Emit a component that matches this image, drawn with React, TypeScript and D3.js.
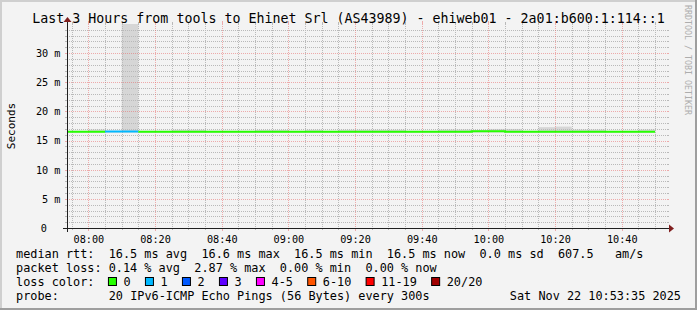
import React from 'react';
import * as d3 from 'd3';

// ---------- data ----------
const intervalEnds = [
  '07:55', '08:00', '08:05', '08:10', '08:15', '08:20', '08:25', '08:30', '08:35', '08:40', '08:45', '08:50',
  '08:55', '09:00', '09:05', '09:10', '09:15', '09:20', '09:25', '09:30', '09:35', '09:40', '09:45', '09:50',
  '09:55', '10:00', '10:05', '10:10', '10:15', '10:20', '10:25', '10:30', '10:35', '10:40', '10:45', '10:50',
];
const medianMs = [
  16.5, 16.5, 16.5, 16.55, 16.55, 16.5, 16.5, 16.5, 16.5, 16.5, 16.5, 16.5,
  16.5, 16.5, 16.5, 16.5, 16.5, 16.5, 16.5, 16.5, 16.5, 16.5, 16.5, 16.5,
  16.5, 16.62, 16.62, 16.5, 16.5, 16.5, 16.5, 16.5, 16.5, 16.5, 16.5, 16.5,
];
const lossCount = [
  0, 0, 0, 1, 1, 0, 0, 0, 0, 0, 0, 0,
  0, 0, 0, 0, 0, 0, 0, 0, 0, 0, 0, 0,
  0, 0, 0, 0, 0, 0, 0, 0, 0, 0, 0, 0,
];
const smokeMaxMs = [
  16.62, 16.62, 16.9, 16.62, 40.0, 16.62, 16.62, 16.85, 16.85, 16.62, 16.62, 16.62,
  16.82, 16.82, 16.62, 16.85, 16.62, 16.85, 16.85, 16.85, 16.85, 16.62, 16.62, 16.9,
  16.9, 16.8, 17.0, 17.0, 16.62, 17.3, 17.4, 16.9, 16.9, 16.62, 16.62, 16.9,
];
const smokeMinMs = [
  16.38, 16.38, 16.38, 16.38, 16.38, 16.38, 16.38, 16.38, 16.38, 16.38, 16.38, 16.38,
  16.38, 16.38, 16.38, 16.38, 16.38, 16.38, 16.38, 16.38, 16.38, 16.38, 16.38, 16.38,
  16.38, 16.38, 16.38, 16.38, 16.38, 16.38, 16.38, 16.38, 16.38, 16.38, 16.38, 16.38,
];

const xTickLabels = ['08:00', '08:20', '08:40', '09:00', '09:20', '09:40', '10:00', '10:20', '10:40'];
const yTickValuesMs = [0, 5, 10, 15, 20, 25, 30];
const yTickLabels = ['0', '5 m', '10 m', '15 m', '20 m', '25 m', '30 m'];

const lossLegendLabels = ['0', '1', '2', '3', '4-5', '6-10', '11-19', '20/20'];
const lossLegendColors = ['#26ff00', '#00b8ff', '#0059ff', '#5e00ff', '#ff00ff', '#ff5500', '#ff0000', '#a10000'];
const lossLegendMin = [0, 1, 2, 3, 4, 6, 11, 20];

const titleText = 'Last 3 Hours from tools to Ehinet Srl (AS43989) - ehiweb01 - 2a01:b600:1:114::1';
const rttStats = [['16.5 ms', 'avg'], ['16.6 ms', 'max'], ['16.5 ms', 'min'], ['16.5 ms', 'now'], ['0.0 ms', 'sd']];
const rttAmps = '607.5';
const lossStats = [['0.14 %', 'avg'], ['2.87 %', 'max'], ['0.00 %', 'min'], ['0.00 %', 'now']];
const probeText = '20 IPv6-ICMP Echo Pings (56 Bytes) every 300s';
const dateText = 'Sat Nov 22 10:53:35 2025';

// ---------- layout ----------
const W = 697;
const H = 310;
const X0 = 67;
const X1 = 667;
const YB = 228;
const YT = 24;
const FONT = "'DejaVu Sans Mono', monospace";
const LEG = 11.85;
const CH = LEG * 0.602;

const day = (s: string, sec = 0) => {
  const [h, m] = s.split(':').map(Number);
  return new Date(2025, 10, 22, h, m, sec);
};

function colorFor(loss: number) {
  let c = lossLegendColors[0];
  lossLegendMin.forEach((m, i) => {
    if (loss >= m) c = lossLegendColors[i];
  });
  return c;
}

export default function App() {
  const tStart = day('07:53', 35);
  const tEnd = day('10:53', 35);
  const x = d3.scaleTime().domain([tStart, tEnd]).range([X0, X1]);
  const y = d3.scaleLinear().domain([0, 35]).range([YB, YT]);

  const minorX = d3.timeMinute.every(5)!.range(day('07:55'), tEnd).filter((t) => t.getMinutes() % 20 !== 0);
  const majorX = xTickLabels.map((s) => day(s));
  const minorY = d3.range(1, 35).filter((v) => v % 5 !== 0);
  const majorY = [5, 10, 15, 20, 25, 30];

  const intervals = intervalEnds.map((s, i) => {
    const e = day(s);
    const st = new Date(e.getTime() - 300000);
    return {
      xs: Math.max(X0, x(st)),
      xe: Math.min(X1, x(e)),
      med: medianMs[i],
      loss: lossCount[i],
      hi: smokeMaxMs[i],
      lo: smokeMinMs[i],
    };
  });

  const runs: { color: string; pts: [number, number][] }[] = [];
  intervals.forEach((d) => {
    const c = colorFor(d.loss);
    const yy = y(d.med);
    const last = runs[runs.length - 1];
    if (!last || last.color !== c) runs.push({ color: c, pts: [] });
    runs[runs.length - 1].pts.push([d.xs, yy], [d.xe, yy]);
  });
  const line = d3.line();

  const gridMinor = '#b9b9b9';
  const gridMajor = 'rgba(232,110,110,0.55)';

  const rttLine =
    'median rtt:  ' + rttStats.map(([v, l]) => `${v} ${l}  `).join('') + rttAmps + '   am/s';
  const lossLine = 'packet loss: ' + lossStats.map(([v, l]) => `${v} ${l}`).join('  ');

  const legendItems: { x: number; label: string; color: string }[] = [];
  let lx = 16 + 13 * CH - 0.8;
  lossLegendLabels.forEach((l, i) => {
    legendItems.push({ x: lx, label: l, color: lossLegendColors[i] });
    lx = lx + 15.6 + (l.length + 2) * CH;
  });

  const hy = (v: number) => Math.round(y(v)) + 0.5;
  const vx = (t: Date) => Math.round(x(t)) + 0.5;

  return (
    <svg
      width={W}
      height={H}
      style={{ position: 'absolute', left: 0, top: 0, display: 'block' }}
      fontFamily={FONT}
    >
      <rect x={0} y={0} width={W} height={H} fill="#f3f3f3" />
      <rect x={0} y={0} width={W} height={2} fill="#cfcfcf" />
      <rect x={0} y={0} width={2} height={H} fill="#cfcfcf" />
      <rect x={0} y={H - 2} width={W} height={2} fill="#9e9e9e" />
      <rect x={W - 2} y={0} width={2} height={H} fill="#9e9e9e" />

      {/* smoke */}
      <g>
        {intervals.map((d, i) => {
          const top = y(Math.min(d.hi, 35));
          const bot = y(d.lo);
          return <rect key={i} x={d.xs} y={top} width={d.xe - d.xs} height={bot - top} fill="#d6d6d6" />;
        })}
      </g>

      {/* grid */}
      <g shapeRendering="crispEdges" strokeWidth={1}>
        {minorY.map((v) => (
          <g key={'my' + v}>
            <line x1={X0 - 2} x2={X0} y1={hy(v)} y2={hy(v)} stroke={gridMinor} />
            <line x1={X1} x2={X1 + 2} y1={hy(v)} y2={hy(v)} stroke={gridMinor} />
            <line x1={X0} x2={X1} y1={hy(v)} y2={hy(v)} stroke={gridMinor} strokeDasharray="1,1" />
          </g>
        ))}
        {minorX.map((t, i) => (
          <g key={'mx' + i}>
            <line x1={vx(t)} x2={vx(t)} y1={YT} y2={YB} stroke={gridMinor} strokeDasharray="1,1" />
            <line x1={vx(t)} x2={vx(t)} y1={YB} y2={YB + 2} stroke={gridMinor} />
            <line x1={vx(t)} x2={vx(t)} y1={YT - 2} y2={YT} stroke={gridMinor} />
          </g>
        ))}
        {majorY.map((v) => (
          <g key={'My' + v}>
            <line x1={X0 - 2} x2={X0} y1={hy(v)} y2={hy(v)} stroke={gridMajor} />
            <line x1={X1} x2={X1 + 2} y1={hy(v)} y2={hy(v)} stroke={gridMajor} />
            <line x1={X0} x2={X1} y1={hy(v)} y2={hy(v)} stroke={gridMajor} strokeDasharray="1,1" />
          </g>
        ))}
        {majorX.map((t, i) => (
          <g key={'Mx' + i}>
            <line x1={vx(t)} x2={vx(t)} y1={YT} y2={YB} stroke={gridMajor} strokeDasharray="1,1" />
            <line x1={vx(t)} x2={vx(t)} y1={YB} y2={YB + 3} stroke={gridMajor} />
            <line x1={vx(t)} x2={vx(t)} y1={YT - 3} y2={YT} stroke={gridMajor} />
          </g>
        ))}
      </g>

      {/* median line */}
      <g fill="none" strokeWidth={2}>
        {runs.map((r, i) => (
          <path key={i} d={line(r.pts) || ''} stroke={r.color} />
        ))}
      </g>

      {/* axes */}
      <g shapeRendering="crispEdges" stroke="#1f1f1f" strokeWidth={1}>
        <line x1={X0 - 4} x2={X1 + 4} y1={YB + 0.5} y2={YB + 0.5} />
        <line x1={X0 + 0.5} x2={X0 + 0.5} y1={YB + 4} y2={YT - 4} />
      </g>
      <path d={`M${X1 + 2},${YB - 3.5} L${X1 + 2},${YB + 4.5} L${X1 + 7},${YB + 0.5} Z`} fill="#801f1f" />
      <path d={`M${X0 - 3.5},${YT - 2} L${X0 + 4.5},${YT - 2} L${X0 + 0.5},${YT - 7} Z`} fill="#801f1f" />

      {/* axis labels */}
      <g fontSize={10.2} fill="#000">
        {yTickValuesMs.map((v, i) => (
          <text key={'yl' + i} x={v === 0 ? 47 : 60.5} y={y(v) + 3.8} textAnchor="end">
            {yTickLabels[i]}
          </text>
        ))}
        {xTickLabels.map((s, i) => (
          <text key={'xl' + i} x={x(day(s)) + 0.5} y={243} textAnchor="middle">
            {s}
          </text>
        ))}
      </g>
      <text fontSize={11} transform={`translate(14.5,126) rotate(-90)`} textAnchor="middle" fill="#000">
        Seconds
      </text>

      {/* title */}
      <text x={W / 2} y={23} fontSize={13.3} textAnchor="middle" fill="#000">
        {titleText}
      </text>

      {/* watermark */}
      <text fontSize={8.3} fill="#adadad" transform={`translate(685,5) rotate(90)`}>
        RRDTOOL / TOBI OETIKER
      </text>

      {/* legend */}
      <g fontSize={LEG} fill="#000" style={{ whiteSpace: 'pre' }}>
        <text x={16} y={258} xmlSpace="preserve">{rttLine}</text>
        <text x={16} y={272} xmlSpace="preserve">{lossLine}</text>
        <text x={16} y={286} xmlSpace="preserve">loss color:</text>
        {legendItems.map((it, i) => (
          <g key={'lg' + i}>
            <rect x={it.x + 0.5} y={277.5} width={8} height={8} fill={it.color} stroke="#000" strokeWidth={1} />
            <text x={it.x + 15.6} y={286}>{it.label}</text>
          </g>
        ))}
        <text x={16} y={300}>probe:</text>
        <text x={16 + 13 * CH} y={300}>{probeText}</text>
        <text x={681} y={300} textAnchor="end">{dateText}</text>
      </g>
    </svg>
  );
}
